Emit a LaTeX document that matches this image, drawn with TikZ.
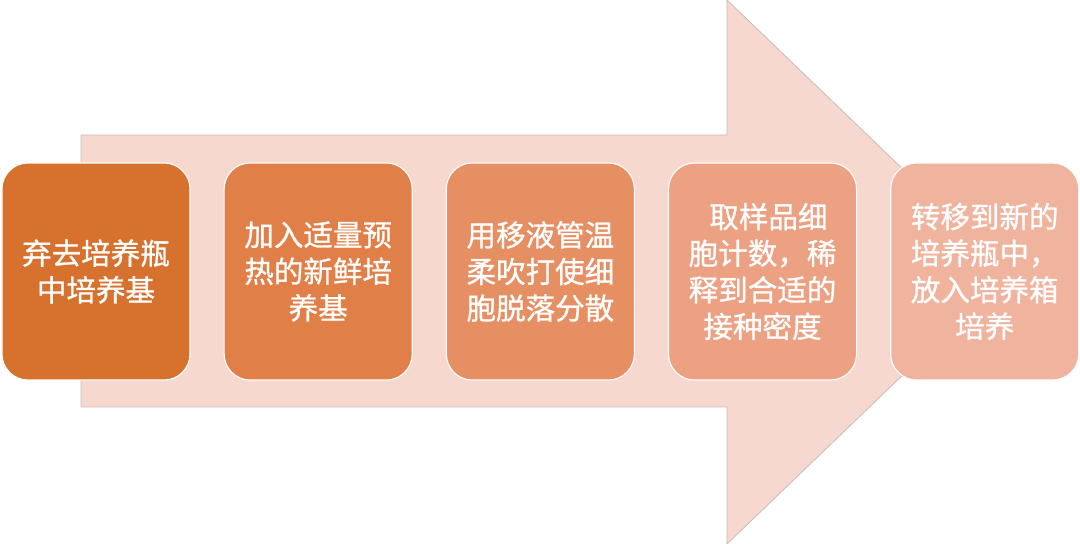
\documentclass[tikz,border=0pt]{standalone}
\usepackage{fontspec}
\newfontfamily\cjk[FakeBold=0.9]{Noto Sans CJK SC}
\usetikzlibrary{positioning}
\definecolor{arrowfill}{HTML}{F7D8CE}
\definecolor{arrowline}{HTML}{C9BDB9}
\definecolor{stepa}{HTML}{D6722E}
\definecolor{stepb}{HTML}{E07F47}
\definecolor{stepc}{HTML}{E68F63}
\definecolor{stepd}{HTML}{EBA182}
\definecolor{stepe}{HTML}{F0B39D}
\tikzset{
  stepbox/.style={draw=white, line width=0.8pt, rounded corners=0.65cm,
    minimum width=4.7cm, minimum height=5.425cm, align=center,
    text=white, font=\cjk\fontsize{21}{26}\selectfont}
}
\begin{document}
\begin{tikzpicture}[x=0.025cm, y=-0.025cm]
\useasboundingbox (0,0) rectangle (1080,544);
% big background arrow
\def\bigarrow{(81,135) -- (727,135) -- (727,0) -- (1010,272) -- (727,544) -- (727,407) -- (81,407) -- cycle}
\fill[arrowfill] \bigarrow;
\draw[arrowline, line width=0.6pt] \bigarrow;
% the five steps
\node[stepbox, fill=stepa] (discard) at (96,271.5) {弃去培养瓶\\中培养基};
\node[stepbox, fill=stepb, right=0.825cm of discard] (medium) {加入适量预\\热的新鲜培\\养基};
\node[stepbox, fill=stepc, right=0.825cm of medium] (pipette) {用移液管温\\柔吹打使细\\胞脱落分散};
\node[stepbox, fill=stepd, right=0.825cm of pipette] (count) {\hspace*{0.4em}取样品细\\胞计数，稀\\释到合适的\\接种密度};
\node[stepbox, fill=stepe, right=0.825cm of count] (transfer) {转移到新的\\培养瓶中，\\放入培养箱\\培养};
\end{tikzpicture}
\end{document}
